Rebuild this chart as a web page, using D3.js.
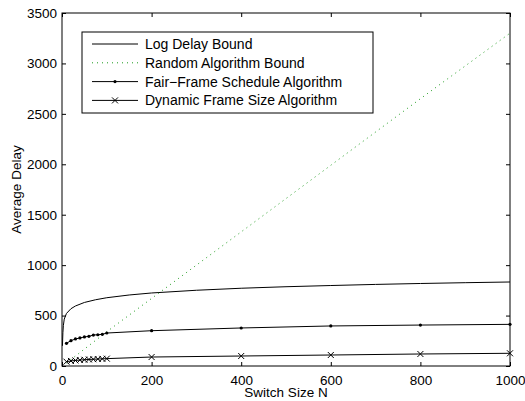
<!DOCTYPE html>
<head>
<script src="https://d3js.org/d3.v7.min.js"></script>
<style>
  body { margin: 0; background: #fff; }
  text { font-family: "Liberation Sans", Arial, sans-serif; fill: #000; }
</style>
</head>
<body>
<svg width="525" height="401"></svg>
<script>
// data
var xTicks = [0, 200, 400, 600, 800, 1000],
    yTicks = [0, 500, 1000, 1500, 2000, 2500, 3000, 3500];

var logN   = [1, 2, 3, 5, 10, 20, 30, 50, 75, 100, 150, 200, 300, 400, 500, 600, 700, 800, 900, 1000],
    logVal = [200, 330, 400, 465, 521, 568, 595, 630, 657, 677, 704, 724, 751, 771, 786, 798, 809, 818, 826, 833];

var randN   = [10, 100, 200, 400, 600, 800, 1000],
    randVal = [30, 340, 670, 1330, 1990, 2650, 3300];

var frameN    = [10, 20, 30, 40, 50, 60, 70, 80, 90, 100, 200, 400, 600, 800, 1000],
    fairVal   = [225, 251, 268, 278, 288, 294, 307, 310, 314, 327, 350, 377, 397, 406, 413],
    dynVal    = [43, 50, 55, 59, 62, 65, 67, 69, 71, 73, 89, 99, 109, 119, 126];

var legendLabels = ["Log Delay Bound", "Random Algorithm Bound", "Fair\u2212Frame Schedule Algorithm", "Dynamic Frame Size Algorithm"];

var svg = d3.select("svg"),
    mLeft = 62, mRight = 510, mTop = 13, mBottom = 366;

var x = d3.scaleLinear().domain([0, 1000]).range([mLeft, mRight]),
    y = d3.scaleLinear().domain([0, 3500]).range([mBottom, mTop]);

var line = d3.line().x(function(d) { return x(d[0]); }).y(function(d) { return y(d[1]); });
function pairs(a, b) { return a.map(function(v, i) { return [v, b[i]]; }); }

// series
svg.append("path").datum(pairs(logN, logVal)).attr("d", line)
   .attr("fill", "none").attr("stroke", "#000").attr("stroke-width", 1);
svg.append("path").datum(pairs(randN, randVal)).attr("d", line)
   .attr("fill", "none").attr("stroke", "#1a9a1a").attr("stroke-width", 1).attr("stroke-dasharray", "1,4");
svg.append("path").datum(pairs(frameN, fairVal)).attr("d", line)
   .attr("fill", "none").attr("stroke", "#000").attr("stroke-width", 1);
svg.append("path").datum(pairs(frameN, dynVal)).attr("d", line)
   .attr("fill", "none").attr("stroke", "#000").attr("stroke-width", 1);

svg.append("g").selectAll("circle").data(pairs(frameN, fairVal)).enter().append("circle")
   .attr("cx", function(d) { return x(d[0]); }).attr("cy", function(d) { return y(d[1]); })
   .attr("r", 1.6).attr("fill", "#000");

function cross(g, cx, cy, s) {
  g.append("path").attr("d", "M" + (cx - s) + "," + (cy - s) + "L" + (cx + s) + "," + (cy + s) +
      "M" + (cx - s) + "," + (cy + s) + "L" + (cx + s) + "," + (cy - s))
   .attr("stroke", "#000").attr("stroke-width", 1).attr("fill", "none");
}
var cg = svg.append("g");
pairs(frameN, dynVal).forEach(function(d) { cross(cg, x(d[0]), y(d[1]), 3); });

// axes (box with ticks inside on all sides)
var fmt = d3.format("d");
var xAx = d3.axisBottom(x).tickValues(xTicks).tickFormat(fmt).tickSizeInner(-4).tickSizeOuter(0).tickPadding(9);
var yAx = d3.axisLeft(y).tickValues(yTicks).tickFormat(fmt).tickSizeInner(-4).tickSizeOuter(0).tickPadding(5);
svg.append("g").attr("transform", "translate(0," + mBottom + ")").call(xAx);
svg.append("g").attr("transform", "translate(" + mLeft + ",0)").call(yAx);
svg.append("g").attr("transform", "translate(0," + mTop + ")")
   .call(d3.axisTop(x).tickValues(xTicks).tickSizeInner(-4).tickSizeOuter(0).tickFormat(""));
svg.append("g").attr("transform", "translate(" + mRight + ",0)")
   .call(d3.axisRight(y).tickValues(yTicks).tickSizeInner(-4).tickSizeOuter(0).tickFormat(""));
svg.selectAll(".domain").remove();
svg.selectAll(".tick line").attr("stroke", "#000");
svg.selectAll(".tick text").style("font-size", "13.5px").style("font-family", "Liberation Sans, Arial, sans-serif");
svg.append("rect").attr("x", mLeft).attr("y", mTop).attr("width", mRight - mLeft).attr("height", mBottom - mTop)
   .attr("fill", "none").attr("stroke", "#000").attr("stroke-width", 1);

// axis titles
svg.append("text").attr("x", (mLeft + mRight) / 2).attr("y", 397).attr("text-anchor", "middle")
   .style("font-size", "13.5px").text("Switch Size N");
svg.append("text").attr("transform", "translate(21," + ((mTop + mBottom) / 2) + ") rotate(-90)")
   .attr("text-anchor", "middle").style("font-size", "13.5px").text("Average Delay");

// legend
var lg = svg.append("g");
lg.append("rect").attr("x", 82).attr("y", 32).attr("width", 291).attr("height", 81)
  .attr("fill", "#fff").attr("stroke", "#000").attr("stroke-width", 1);
legendLabels.forEach(function(t, i) {
  var cy = 44 + i * 18.8;
  var l = lg.append("line").attr("x1", 92).attr("x2", 138).attr("y1", cy).attr("y2", cy)
    .attr("stroke", i === 1 ? "#1a9a1a" : "#000").attr("stroke-width", 1);
  if (i === 1) l.attr("stroke-dasharray", "1,4");
  if (i === 2) lg.append("circle").attr("cx", 115).attr("cy", cy).attr("r", 1.6).attr("fill", "#000");
  if (i === 3) cross(lg, 115, cy, 3);
  lg.append("text").attr("x", 145).attr("y", cy + 5).style("font-size", "14px").text(t);
});
</script>
</body>
